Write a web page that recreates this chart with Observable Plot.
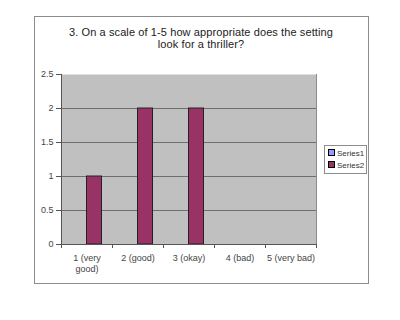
<!DOCTYPE html>
<html>
<head>
<meta charset="utf-8">
<script src="https://cdn.jsdelivr.net/npm/d3@7"></script>
<script src="https://cdn.jsdelivr.net/npm/@observablehq/plot@0.6"></script>
<style>
  html, body { margin: 0; padding: 0; background: #fff; }
  #wrap { position: relative; width: 400px; height: 320px; font-family: "Liberation Sans", Arial, sans-serif; }
  #wrap svg { position: absolute; left: 0; top: 0; }
  #border { position: absolute; left: 34px; top: 16px; width: 333px; height: 266px; border: 1px solid #8c8c8c; box-sizing: content-box; }
  #title { position: absolute; left: 34px; top: 26px; width: 334px; text-align: center; font-size: 11px; line-height: 12px; color: #222; letter-spacing: 0.1px; }
  #legend { position: absolute; left: 324px; top: 145px; width: 41px; height: 27px; border: 1px solid #8c8c8c; background: #fff; font-size: 8px; color: #333; }
  .item { position: absolute; left: 3px; height: 10px; line-height: 10px; white-space: nowrap; }
  .sw { display: inline-block; width: 5px; height: 5px; border: 1px solid #000; margin-right: 2px; vertical-align: 0px; }
</style>
</head>
<body>
<div id="wrap">
  <div id="border"></div>
  <div id="title"></div>
  <div id="legend"></div>
</div>
<script>
const titleLines = ["3. On a scale of 1-5 how appropriate does the setting", "look for a thriller?"];
const categories = ["1 (very good)", "2 (good)", "3 (okay)", "4 (bad)", "5 (very bad)"];
const tickLabels = ["1 (very\ngood)", "2 (good)", "3 (okay)", "4 (bad)", "5 (very bad)"];
const seriesNames = ["Series1", "Series2"];
const seriesColors = ["#9999ff", "#993366"];
const series1 = [0, 0, 0, 0, 0];
const series2 = [1, 2, 2, 0, 0];
const yTicks = [0, 0.5, 1, 1.5, 2, 2.5];
const gridValues = [0.5, 1, 1.5, 2];

const rows = categories.map((c, i) => ({category: c, s1: series1[i], s2: series2[i]}));

const chart = Plot.plot({
  width: 400,
  height: 320,
  marginLeft: 61,
  marginRight: 84,
  marginTop: 74,
  marginBottom: 76,
  style: {fontFamily: "'Liberation Sans', Arial, sans-serif", fontSize: "9px", background: "transparent", color: "#333"},
  x: {type: "band", domain: categories, padding: 0, label: null, axis: null},
  y: {domain: [0, 2.5], label: null, axis: null},
  marks: [
    Plot.frame({fill: "#c0c0c0", stroke: null}),
    Plot.gridY(gridValues, {stroke: "#6e6e6e", strokeOpacity: 1}),
    Plot.frame({anchor: "right", stroke: "#8c8c8c"}),
    Plot.barY(rows, {x: "category", y: "s1", fill: seriesColors[0], stroke: "#222", dx: -7.5, insetLeft: 18, insetRight: 18}),
    Plot.barY(rows, {x: "category", y: "s2", fill: seriesColors[1], stroke: "#222", dx: 7.5, insetLeft: 18, insetRight: 18}),
    Plot.frame({anchor: "left", stroke: "#555"}),
    Plot.ruleY([0], {stroke: "#555"}),
    Plot.axisY({ticks: yTicks, tickSize: 5, tickPadding: 3, tickFormat: d => String(d), stroke: "#555", fill: "#444", label: null}),
    Plot.axisX({tickSize: 4, tickFormat: () => "", dx: -25.5, stroke: "#555", label: null}),
    Plot.axisX(categories.slice(-1), {tickSize: 4, tickFormat: () => "", dx: 25.5, stroke: "#555", label: null}),
    Plot.axisX({tickSize: 0, tickPadding: 9, lineHeight: 1.2, tickFormat: d => tickLabels[categories.indexOf(d)], fill: "#444", label: null})
  ]
});
document.getElementById("wrap").prepend(chart);

document.getElementById("title").innerHTML = titleLines.join("<br>");
const legend = document.getElementById("legend");
seriesNames.forEach((name, i) => {
  const el = document.createElement("div");
  el.className = "item";
  el.style.top = (3 + i * 12) + "px";
  el.innerHTML = `<span class="sw" style="background:${seriesColors[i]}"></span>${name}`;
  legend.appendChild(el);
});
</script>
</body>
</html>
